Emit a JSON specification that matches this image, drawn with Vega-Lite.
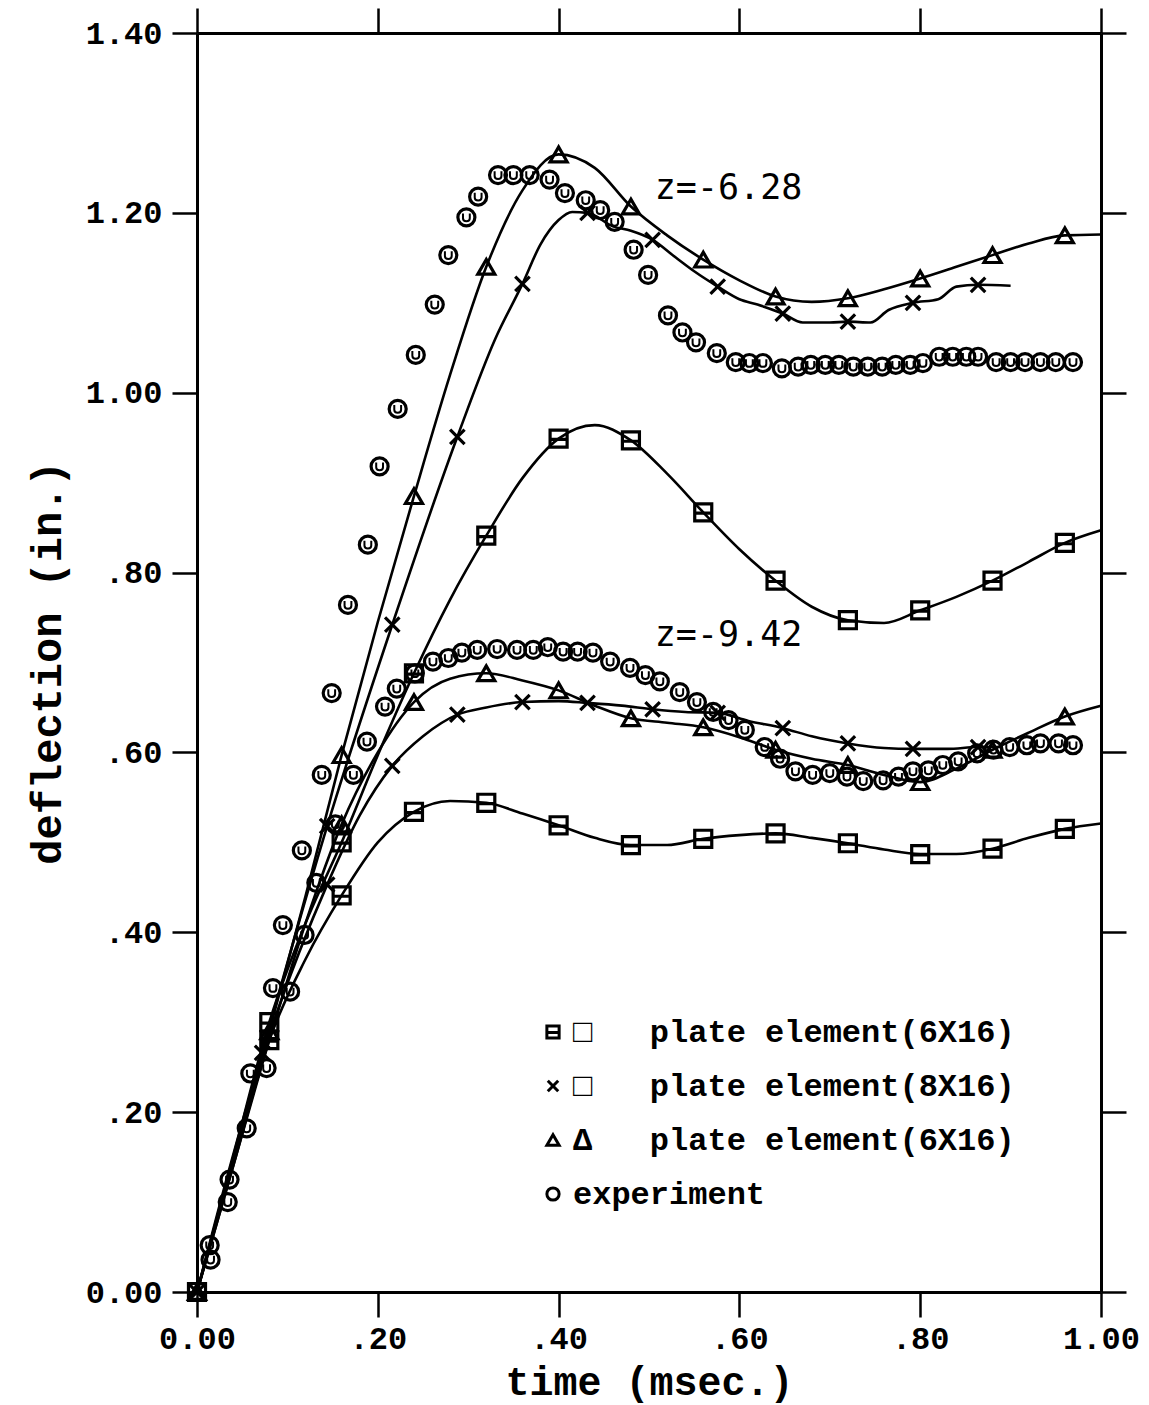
{
  "$schema": "https://vega.github.io/schema/vega-lite/v6.json",
  "width": 904,
  "height": 1259,
  "autosize": {"type": "none"},
  "padding": {"left": 197, "top": 33, "right": 48, "bottom": 113},
  "background": "white",
  "config": {"view": {"stroke": null}},
  "datasets": {
    "curves": [
      {"t":0,"d":0,"series":"sq z=-6.28"},{"t":0.04,"d":0.15,"series":"sq z=-6.28"},{"t":0.08,"d":0.30,"series":"sq z=-6.28"},{"t":0.12,"d":0.41,"series":"sq z=-6.28"},{"t":0.16,"d":0.50,"series":"sq z=-6.28"},{"t":0.20,"d":0.597,"series":"sq z=-6.28"},{"t":0.24,"d":0.688,"series":"sq z=-6.28"},{"t":0.28,"d":0.77,"series":"sq z=-6.28"},{"t":0.32,"d":0.841,"series":"sq z=-6.28"},{"t":0.36,"d":0.905,"series":"sq z=-6.28"},{"t":0.40,"d":0.949,"series":"sq z=-6.28"},{"t":0.44,"d":0.964,"series":"sq z=-6.28"},{"t":0.48,"d":0.947,"series":"sq z=-6.28"},{"t":0.52,"d":0.91,"series":"sq z=-6.28"},{"t":0.56,"d":0.867,"series":"sq z=-6.28"},{"t":0.60,"d":0.826,"series":"sq z=-6.28"},{"t":0.64,"d":0.791,"series":"sq z=-6.28"},{"t":0.68,"d":0.762,"series":"sq z=-6.28"},{"t":0.72,"d":0.747,"series":"sq z=-6.28"},{"t":0.76,"d":0.744,"series":"sq z=-6.28"},{"t":0.80,"d":0.758,"series":"sq z=-6.28"},{"t":0.84,"d":0.773,"series":"sq z=-6.28"},{"t":0.88,"d":0.791,"series":"sq z=-6.28"},{"t":0.92,"d":0.812,"series":"sq z=-6.28"},{"t":0.96,"d":0.833,"series":"sq z=-6.28"},{"t":1.00,"d":0.847,"series":"sq z=-6.28"},

      {"t":0,"d":0,"series":"sq z=-9.42"},{"t":0.04,"d":0.14,"series":"sq z=-9.42"},{"t":0.08,"d":0.28,"series":"sq z=-9.42"},{"t":0.12,"d":0.37,"series":"sq z=-9.42"},{"t":0.16,"d":0.441,"series":"sq z=-9.42"},{"t":0.20,"d":0.50,"series":"sq z=-9.42"},{"t":0.24,"d":0.534,"series":"sq z=-9.42"},{"t":0.28,"d":0.546,"series":"sq z=-9.42"},{"t":0.32,"d":0.544,"series":"sq z=-9.42"},{"t":0.36,"d":0.532,"series":"sq z=-9.42"},{"t":0.40,"d":0.519,"series":"sq z=-9.42"},{"t":0.44,"d":0.505,"series":"sq z=-9.42"},{"t":0.48,"d":0.497,"series":"sq z=-9.42"},{"t":0.52,"d":0.497,"series":"sq z=-9.42"},{"t":0.56,"d":0.504,"series":"sq z=-9.42"},{"t":0.60,"d":0.508,"series":"sq z=-9.42"},{"t":0.64,"d":0.510,"series":"sq z=-9.42"},{"t":0.68,"d":0.505,"series":"sq z=-9.42"},{"t":0.72,"d":0.499,"series":"sq z=-9.42"},{"t":0.76,"d":0.492,"series":"sq z=-9.42"},{"t":0.80,"d":0.487,"series":"sq z=-9.42"},{"t":0.84,"d":0.487,"series":"sq z=-9.42"},{"t":0.88,"d":0.493,"series":"sq z=-9.42"},{"t":0.92,"d":0.505,"series":"sq z=-9.42"},{"t":0.96,"d":0.515,"series":"sq z=-9.42"},{"t":1.00,"d":0.521,"series":"sq z=-9.42"},

      {"t":0,"d":0,"series":"tri z=-6.28"},{"t":0.04,"d":0.145,"series":"tri z=-6.28"},{"t":0.08,"d":0.29,"series":"tri z=-6.28"},{"t":0.12,"d":0.44,"series":"tri z=-6.28"},{"t":0.16,"d":0.597,"series":"tri z=-6.28"},{"t":0.20,"d":0.745,"series":"tri z=-6.28"},{"t":0.24,"d":0.885,"series":"tri z=-6.28"},{"t":0.28,"d":1.02,"series":"tri z=-6.28"},{"t":0.32,"d":1.14,"series":"tri z=-6.28"},{"t":0.36,"d":1.225,"series":"tri z=-6.28"},{"t":0.40,"d":1.265,"series":"tri z=-6.28"},{"t":0.44,"d":1.25,"series":"tri z=-6.28"},{"t":0.48,"d":1.207,"series":"tri z=-6.28"},{"t":0.52,"d":1.175,"series":"tri z=-6.28"},{"t":0.56,"d":1.148,"series":"tri z=-6.28"},{"t":0.60,"d":1.125,"series":"tri z=-6.28"},{"t":0.64,"d":1.107,"series":"tri z=-6.28"},{"t":0.68,"d":1.101,"series":"tri z=-6.28"},{"t":0.72,"d":1.105,"series":"tri z=-6.28"},{"t":0.76,"d":1.115,"series":"tri z=-6.28"},{"t":0.80,"d":1.127,"series":"tri z=-6.28"},{"t":0.84,"d":1.140,"series":"tri z=-6.28"},{"t":0.88,"d":1.153,"series":"tri z=-6.28"},{"t":0.92,"d":1.166,"series":"tri z=-6.28"},{"t":0.96,"d":1.175,"series":"tri z=-6.28"},{"t":1.00,"d":1.176,"series":"tri z=-6.28"},

      {"t":0,"d":0,"series":"tri z=-9.42"},{"t":0.04,"d":0.14,"series":"tri z=-9.42"},{"t":0.08,"d":0.28,"series":"tri z=-9.42"},{"t":0.12,"d":0.41,"series":"tri z=-9.42"},{"t":0.16,"d":0.52,"series":"tri z=-9.42"},{"t":0.20,"d":0.60,"series":"tri z=-9.42"},{"t":0.24,"d":0.656,"series":"tri z=-9.42"},{"t":0.28,"d":0.682,"series":"tri z=-9.42"},{"t":0.32,"d":0.688,"series":"tri z=-9.42"},{"t":0.36,"d":0.680,"series":"tri z=-9.42"},{"t":0.40,"d":0.669,"series":"tri z=-9.42"},{"t":0.44,"d":0.652,"series":"tri z=-9.42"},{"t":0.48,"d":0.638,"series":"tri z=-9.42"},{"t":0.52,"d":0.633,"series":"tri z=-9.42"},{"t":0.56,"d":0.628,"series":"tri z=-9.42"},{"t":0.60,"d":0.617,"series":"tri z=-9.42"},{"t":0.64,"d":0.603,"series":"tri z=-9.42"},{"t":0.68,"d":0.593,"series":"tri z=-9.42"},{"t":0.72,"d":0.586,"series":"tri z=-9.42"},{"t":0.76,"d":0.575,"series":"tri z=-9.42"},{"t":0.80,"d":0.567,"series":"tri z=-9.42"},{"t":0.84,"d":0.582,"series":"tri z=-9.42"},{"t":0.88,"d":0.603,"series":"tri z=-9.42"},{"t":0.92,"d":0.622,"series":"tri z=-9.42"},{"t":0.96,"d":0.640,"series":"tri z=-9.42"},{"t":1.00,"d":0.652,"series":"tri z=-9.42"},

      {"t":0,"d":0,"series":"x z=-6.28"},{"t":0.072,"d":0.266,"series":"x z=-6.28"},{"t":0.144,"d":0.518,"series":"x z=-6.28"},{"t":0.216,"d":0.742,"series":"x z=-6.28"},{"t":0.288,"d":0.951,"series":"x z=-6.28"},{"t":0.33,"d":1.06,"series":"x z=-6.28"},{"t":0.36,"d":1.121,"series":"x z=-6.28"},{"t":0.38,"d":1.165,"series":"x z=-6.28"},{"t":0.40,"d":1.192,"series":"x z=-6.28"},{"t":0.415,"d":1.201,"series":"x z=-6.28"},{"t":0.432,"d":1.200,"series":"x z=-6.28"},{"t":0.46,"d":1.185,"series":"x z=-6.28"},{"t":0.48,"d":1.18,"series":"x z=-6.28"},{"t":0.504,"d":1.170,"series":"x z=-6.28"},{"t":0.53,"d":1.15,"series":"x z=-6.28"},{"t":0.55,"d":1.135,"series":"x z=-6.28"},{"t":0.576,"d":1.118,"series":"x z=-6.28"},{"t":0.60,"d":1.104,"series":"x z=-6.28"},{"t":0.62,"d":1.098,"series":"x z=-6.28"},{"t":0.648,"d":1.088,"series":"x z=-6.28"},{"t":0.67,"d":1.078,"series":"x z=-6.28"},{"t":0.70,"d":1.078,"series":"x z=-6.28"},{"t":0.72,"d":1.079,"series":"x z=-6.28"},{"t":0.745,"d":1.078,"series":"x z=-6.28"},{"t":0.765,"d":1.092,"series":"x z=-6.28"},{"t":0.792,"d":1.100,"series":"x z=-6.28"},{"t":0.82,"d":1.104,"series":"x z=-6.28"},{"t":0.84,"d":1.118,"series":"x z=-6.28"},{"t":0.864,"d":1.120,"series":"x z=-6.28"},{"t":0.90,"d":1.119,"series":"x z=-6.28"},

      {"t":0,"d":0,"series":"x z=-9.42"},{"t":0.072,"d":0.262,"series":"x z=-9.42"},{"t":0.144,"d":0.453,"series":"x z=-9.42"},{"t":0.18,"d":0.53,"series":"x z=-9.42"},{"t":0.216,"d":0.585,"series":"x z=-9.42"},{"t":0.25,"d":0.618,"series":"x z=-9.42"},{"t":0.288,"d":0.642,"series":"x z=-9.42"},{"t":0.32,"d":0.650,"series":"x z=-9.42"},{"t":0.36,"d":0.656,"series":"x z=-9.42"},{"t":0.40,"d":0.657,"series":"x z=-9.42"},{"t":0.432,"d":0.655,"series":"x z=-9.42"},{"t":0.47,"d":0.652,"series":"x z=-9.42"},{"t":0.504,"d":0.648,"series":"x z=-9.42"},{"t":0.54,"d":0.645,"series":"x z=-9.42"},{"t":0.576,"d":0.644,"series":"x z=-9.42"},{"t":0.61,"d":0.635,"series":"x z=-9.42"},{"t":0.648,"d":0.627,"series":"x z=-9.42"},{"t":0.68,"d":0.618,"series":"x z=-9.42"},{"t":0.72,"d":0.610,"series":"x z=-9.42"},{"t":0.76,"d":0.605,"series":"x z=-9.42"},{"t":0.792,"d":0.604,"series":"x z=-9.42"},{"t":0.83,"d":0.604,"series":"x z=-9.42"},{"t":0.864,"d":0.606,"series":"x z=-9.42"},{"t":0.89,"d":0.606,"series":"x z=-9.42"}
    ],
    "markers": [
      {"t":0,"d":0,"kind":"sq"},{"t":0,"d":0,"kind":"x"},{"t":0,"d":0,"kind":"tri"},
      {"t":0.08,"d":0.30,"kind":"sq"},{"t":0.16,"d":0.50,"kind":"sq"},{"t":0.24,"d":0.688,"kind":"sq"},{"t":0.32,"d":0.841,"kind":"sq"},{"t":0.40,"d":0.949,"kind":"sq"},{"t":0.48,"d":0.947,"kind":"sq"},{"t":0.56,"d":0.867,"kind":"sq"},{"t":0.64,"d":0.791,"kind":"sq"},{"t":0.72,"d":0.747,"kind":"sq"},{"t":0.80,"d":0.758,"kind":"sq"},{"t":0.88,"d":0.791,"kind":"sq"},{"t":0.96,"d":0.833,"kind":"sq"},
      {"t":0.08,"d":0.28,"kind":"sq"},{"t":0.16,"d":0.441,"kind":"sq"},{"t":0.24,"d":0.534,"kind":"sq"},{"t":0.32,"d":0.544,"kind":"sq"},{"t":0.40,"d":0.519,"kind":"sq"},{"t":0.48,"d":0.497,"kind":"sq"},{"t":0.56,"d":0.504,"kind":"sq"},{"t":0.64,"d":0.510,"kind":"sq"},{"t":0.72,"d":0.499,"kind":"sq"},{"t":0.80,"d":0.487,"kind":"sq"},{"t":0.88,"d":0.493,"kind":"sq"},{"t":0.96,"d":0.515,"kind":"sq"},
      {"t":0.072,"d":0.266,"kind":"x"},{"t":0.144,"d":0.518,"kind":"x"},{"t":0.216,"d":0.742,"kind":"x"},{"t":0.288,"d":0.951,"kind":"x"},{"t":0.36,"d":1.121,"kind":"x"},{"t":0.432,"d":1.200,"kind":"x"},{"t":0.504,"d":1.170,"kind":"x"},{"t":0.576,"d":1.118,"kind":"x"},{"t":0.648,"d":1.088,"kind":"x"},{"t":0.72,"d":1.079,"kind":"x"},{"t":0.792,"d":1.100,"kind":"x"},{"t":0.864,"d":1.120,"kind":"x"},
      {"t":0.144,"d":0.453,"kind":"x"},{"t":0.216,"d":0.585,"kind":"x"},{"t":0.288,"d":0.642,"kind":"x"},{"t":0.36,"d":0.656,"kind":"x"},{"t":0.432,"d":0.655,"kind":"x"},{"t":0.504,"d":0.648,"kind":"x"},{"t":0.576,"d":0.644,"kind":"x"},{"t":0.648,"d":0.627,"kind":"x"},{"t":0.72,"d":0.610,"kind":"x"},{"t":0.792,"d":0.604,"kind":"x"},{"t":0.864,"d":0.606,"kind":"x"},
      {"t":0.08,"d":0.29,"kind":"tri"},{"t":0.16,"d":0.597,"kind":"tri"},{"t":0.24,"d":0.885,"kind":"tri"},{"t":0.32,"d":1.14,"kind":"tri"},{"t":0.40,"d":1.265,"kind":"tri"},{"t":0.48,"d":1.207,"kind":"tri"},{"t":0.56,"d":1.148,"kind":"tri"},{"t":0.64,"d":1.107,"kind":"tri"},{"t":0.72,"d":1.105,"kind":"tri"},{"t":0.80,"d":1.127,"kind":"tri"},{"t":0.88,"d":1.153,"kind":"tri"},{"t":0.96,"d":1.175,"kind":"tri"},
      {"t":0.16,"d":0.52,"kind":"tri"},{"t":0.24,"d":0.656,"kind":"tri"},{"t":0.32,"d":0.688,"kind":"tri"},{"t":0.40,"d":0.669,"kind":"tri"},{"t":0.48,"d":0.638,"kind":"tri"},{"t":0.56,"d":0.628,"kind":"tri"},{"t":0.64,"d":0.603,"kind":"tri"},{"t":0.72,"d":0.586,"kind":"tri"},{"t":0.80,"d":0.567,"kind":"tri"},{"t":0.88,"d":0.603,"kind":"tri"},{"t":0.96,"d":0.640,"kind":"tri"},
      {"t":0.014,"d":0.052,"kind":"exp"},{"t":0.036,"d":0.125,"kind":"exp"},{"t":0.059,"d":0.243,"kind":"exp"},{"t":0.084,"d":0.338,"kind":"exp"},{"t":0.095,"d":0.408,"kind":"exp"},{"t":0.116,"d":0.491,"kind":"exp"},{"t":0.138,"d":0.575,"kind":"exp"},{"t":0.149,"d":0.666,"kind":"exp"},{"t":0.167,"d":0.764,"kind":"exp"},{"t":0.189,"d":0.831,"kind":"exp"},{"t":0.202,"d":0.918,"kind":"exp"},{"t":0.222,"d":0.982,"kind":"exp"},{"t":0.242,"d":1.042,"kind":"exp"},{"t":0.263,"d":1.098,"kind":"exp"},{"t":0.278,"d":1.153,"kind":"exp"},{"t":0.298,"d":1.195,"kind":"exp"},{"t":0.311,"d":1.218,"kind":"exp"},{"t":0.333,"d":1.242,"kind":"exp"},{"t":0.350,"d":1.242,"kind":"exp"},{"t":0.368,"d":1.242,"kind":"exp"},{"t":0.390,"d":1.237,"kind":"exp"},{"t":0.407,"d":1.222,"kind":"exp"},{"t":0.430,"d":1.214,"kind":"exp"},{"t":0.446,"d":1.203,"kind":"exp"},{"t":0.462,"d":1.190,"kind":"exp"},{"t":0.483,"d":1.159,"kind":"exp"},{"t":0.499,"d":1.131,"kind":"exp"},{"t":0.521,"d":1.086,"kind":"exp"},{"t":0.537,"d":1.067,"kind":"exp"},{"t":0.552,"d":1.056,"kind":"exp"},{"t":0.575,"d":1.044,"kind":"exp"},{"t":0.596,"d":1.034,"kind":"exp"},{"t":0.611,"d":1.033,"kind":"exp"},{"t":0.626,"d":1.033,"kind":"exp"},{"t":0.647,"d":1.027,"kind":"exp"},{"t":0.665,"d":1.029,"kind":"exp"},{"t":0.679,"d":1.031,"kind":"exp"},{"t":0.695,"d":1.031,"kind":"exp"},{"t":0.710,"d":1.031,"kind":"exp"},{"t":0.726,"d":1.029,"kind":"exp"},{"t":0.742,"d":1.029,"kind":"exp"},{"t":0.758,"d":1.029,"kind":"exp"},{"t":0.773,"d":1.031,"kind":"exp"},{"t":0.789,"d":1.031,"kind":"exp"},{"t":0.803,"d":1.033,"kind":"exp"},{"t":0.821,"d":1.040,"kind":"exp"},{"t":0.836,"d":1.040,"kind":"exp"},{"t":0.851,"d":1.040,"kind":"exp"},{"t":0.864,"d":1.040,"kind":"exp"},{"t":0.884,"d":1.034,"kind":"exp"},{"t":0.900,"d":1.034,"kind":"exp"},{"t":0.916,"d":1.034,"kind":"exp"},{"t":0.933,"d":1.034,"kind":"exp"},{"t":0.950,"d":1.034,"kind":"exp"},{"t":0.969,"d":1.034,"kind":"exp"},
      {"t":0.015,"d":0.036,"kind":"exp"},{"t":0.034,"d":0.100,"kind":"exp"},{"t":0.055,"d":0.182,"kind":"exp"},{"t":0.077,"d":0.249,"kind":"exp"},{"t":0.103,"d":0.334,"kind":"exp"},{"t":0.119,"d":0.397,"kind":"exp"},{"t":0.132,"d":0.455,"kind":"exp"},{"t":0.153,"d":0.520,"kind":"exp"},{"t":0.173,"d":0.575,"kind":"exp"},{"t":0.188,"d":0.612,"kind":"exp"},{"t":0.208,"d":0.651,"kind":"exp"},{"t":0.221,"d":0.671,"kind":"exp"},{"t":0.241,"d":0.688,"kind":"exp"},{"t":0.261,"d":0.701,"kind":"exp"},{"t":0.278,"d":0.705,"kind":"exp"},{"t":0.293,"d":0.711,"kind":"exp"},{"t":0.310,"d":0.714,"kind":"exp"},{"t":0.332,"d":0.715,"kind":"exp"},{"t":0.354,"d":0.714,"kind":"exp"},{"t":0.372,"d":0.714,"kind":"exp"},{"t":0.388,"d":0.717,"kind":"exp"},{"t":0.405,"d":0.712,"kind":"exp"},{"t":0.421,"d":0.712,"kind":"exp"},{"t":0.438,"d":0.711,"kind":"exp"},{"t":0.457,"d":0.701,"kind":"exp"},{"t":0.479,"d":0.694,"kind":"exp"},{"t":0.496,"d":0.686,"kind":"exp"},{"t":0.512,"d":0.679,"kind":"exp"},{"t":0.534,"d":0.667,"kind":"exp"},{"t":0.553,"d":0.656,"kind":"exp"},{"t":0.571,"d":0.645,"kind":"exp"},{"t":0.588,"d":0.636,"kind":"exp"},{"t":0.606,"d":0.625,"kind":"exp"},{"t":0.628,"d":0.606,"kind":"exp"},{"t":0.645,"d":0.593,"kind":"exp"},{"t":0.662,"d":0.579,"kind":"exp"},{"t":0.681,"d":0.575,"kind":"exp"},{"t":0.700,"d":0.577,"kind":"exp"},{"t":0.719,"d":0.573,"kind":"exp"},{"t":0.737,"d":0.568,"kind":"exp"},{"t":0.759,"d":0.569,"kind":"exp"},{"t":0.776,"d":0.573,"kind":"exp"},{"t":0.792,"d":0.579,"kind":"exp"},{"t":0.809,"d":0.580,"kind":"exp"},{"t":0.825,"d":0.586,"kind":"exp"},{"t":0.842,"d":0.590,"kind":"exp"},{"t":0.863,"d":0.599,"kind":"exp"},{"t":0.881,"d":0.603,"kind":"exp"},{"t":0.899,"d":0.606,"kind":"exp"},{"t":0.918,"d":0.608,"kind":"exp"},{"t":0.933,"d":0.610,"kind":"exp"},{"t":0.953,"d":0.610,"kind":"exp"},{"t":0.969,"d":0.608,"kind":"exp"}
    ],
    "notes": [
      {"t":0.588,"d":1.228,"label":"z=-6.28"},
      {"t":0.588,"d":0.731,"label":"z=-9.42"}
    ]
  },
  "layer": [
    {
      "data": {"name": "curves"},
      "mark": {"type": "line", "color": "black", "strokeWidth": 2.6, "interpolate": "monotone"},
      "encoding": {
        "x": {"field": "t", "type": "quantitative", "scale": {"domain": [0, 1], "nice": false},
          "axis": {"orient": "bottom", "values": [0, 0.2, 0.4, 0.6, 0.8, 1],
            "labelExpr": "datum.value == 0 ? '0.00' : datum.value < 1 ? slice(format(datum.value, '.2f'), 1) : format(datum.value, '.2f')",
            "title": "time (msec.)", "grid": false, "tickSize": 25, "tickWidth": 2.5, "tickColor": "black",
            "domainColor": "black", "domainWidth": 3, "labelFont": "Liberation Mono", "labelFontWeight": "bold",
            "labelFontSize": 32, "labelColor": "black", "labelPadding": 6, "labelFlush": false, "labelOverlap": false,
            "titleFont": "Liberation Mono", "titleFontSize": 40, "titleFontWeight": "bold", "titleColor": "black", "titlePadding": 8}},
        "y": {"field": "d", "type": "quantitative", "scale": {"domain": [0, 1.4], "nice": false},
          "axis": {"orient": "left", "values": [0, 0.2, 0.4, 0.6, 0.8, 1, 1.2, 1.4],
            "labelExpr": "datum.value == 0 ? '0.00' : datum.value < 1 ? slice(format(datum.value, '.2f'), 1) : format(datum.value, '.2f')",
            "title": "deflection (in.)", "grid": false, "tickSize": 25, "tickWidth": 2.5, "tickColor": "black",
            "domainColor": "black", "domainWidth": 3, "labelFont": "Liberation Mono", "labelFontWeight": "bold",
            "labelFontSize": 32, "labelColor": "black", "labelPadding": 10, "labelFlush": false, "labelOverlap": false,
            "titleFont": "Liberation Mono", "titleFontSize": 42, "titleFontWeight": "bold", "titleColor": "black", "titlePadding": 16}},
        "detail": {"field": "series", "type": "nominal"}
      }
    },
    {
      "data": {"name": "markers"},
      "mark": {"type": "point", "filled": false, "color": "black", "strokeWidth": 3.2, "opacity": 1, "size": 290},
      "encoding": {
        "x": {"field": "t", "type": "quantitative",
          "axis": {"orient": "top", "values": [0, 0.2, 0.4, 0.6, 0.8, 1], "labels": false, "title": null, "grid": false,
            "tickSize": 25, "tickWidth": 2.5, "tickColor": "black", "domainColor": "black", "domainWidth": 3}},
        "y": {"field": "d", "type": "quantitative",
          "axis": {"orient": "right", "values": [0, 0.2, 0.4, 0.6, 0.8, 1, 1.2, 1.4], "labels": false, "title": null, "grid": false,
            "tickSize": 25, "tickWidth": 2.5, "tickColor": "black", "domainColor": "black", "domainWidth": 3}},
        "shape": {"field": "kind", "type": "nominal",
          "scale": {"domain": ["sq", "x", "tri", "exp"],
            "range": ["M-1,-1L1,-1L1,1L-1,1ZM-1,0.1L1,0.1", "M-0.85,-0.85L0.85,0.85M-0.85,0.85L0.85,-0.85", "triangle-up", "circle"]},
          "legend": {"orient": "none", "legendX": 340, "legendY": 983, "title": null, "direction": "vertical",
            "labelExpr": "datum.value == 'sq' ? '□\u00a0\u00a0\u00a0plate element(6X16)' : datum.value == 'x' ? '□\u00a0\u00a0\u00a0plate element(8X16)' : datum.value == 'tri' ? 'Δ\u00a0\u00a0\u00a0plate element(6X16)' : '\u00a0experiment'",
            "labelFont": "Liberation Mono", "labelFontWeight": "bold", "labelFontSize": 32, "labelColor": "black", "labelLimit": 900,
            "symbolSize": 150, "symbolStrokeWidth": 3, "symbolStrokeColor": "black", "symbolFillColor": "transparent",
            "rowPadding": 22, "labelOffset": 4, "padding": 0}}
      }
    },
    {
      "data": {"name": "markers"},
      "transform": [{"filter": "datum.kind == 'exp'"}],
      "mark": {"type": "point", "filled": false, "color": "black", "strokeWidth": 2, "opacity": 1, "size": 290,
        "shape": "M-0.4,-0.45L-0.4,0.1Q-0.4,0.45 0,0.45Q0.4,0.45 0.4,0.1L0.4,-0.45"},
      "encoding": {
        "x": {"field": "t", "type": "quantitative", "axis": null},
        "y": {"field": "d", "type": "quantitative", "axis": null}
      }
    },
    {
      "data": {"name": "notes"},
      "mark": {"type": "text", "font": "DejaVu Sans Mono", "fontSize": 35, "color": "black", "align": "center", "baseline": "middle"},
      "encoding": {
        "x": {"field": "t", "type": "quantitative", "axis": null},
        "y": {"field": "d", "type": "quantitative", "axis": null},
        "text": {"field": "label"}
      }
    }
  ],
  "resolve": {"axis": {"x": "independent", "y": "independent"}}
}
